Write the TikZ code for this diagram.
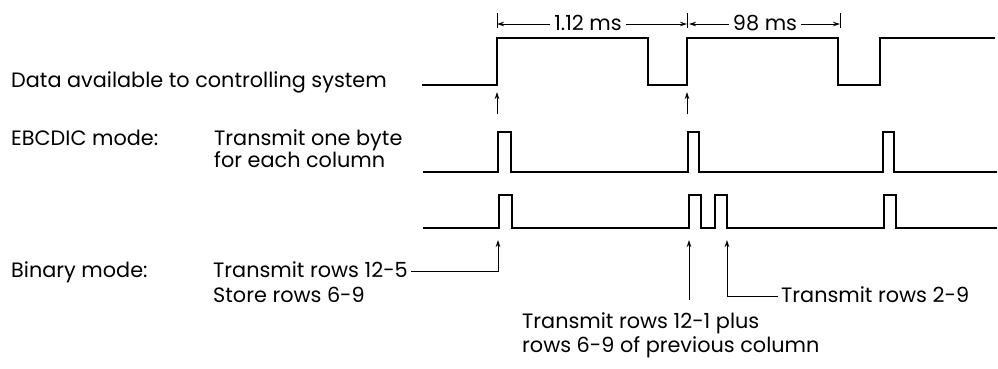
\documentclass[tikz,border=0pt]{standalone}
\usepackage{fontspec}
\setmainfont{Poppins}
\usetikzlibrary{arrows.meta}

\tikzset{
	wave/.style={line width=1.2pt, line join=miter},
	txt/.style={inner sep=0pt, anchor=base west, font=\fontsize{20.8}{24}\selectfont},
	dimtxt/.style={inner sep=0pt, anchor=base, font=\fontsize{20.8}{24}\selectfont},
	up/.style={-{Stealth[length=7pt,width=4.5pt]}, line width=0.9pt},
	dim/.style={-{Stealth[length=7pt,width=4.5pt]}, line width=0.9pt},
}

\begin{document}
\begin{tikzpicture}[x=1pt,y=-1pt]
	\useasboundingbox (0,0) rectangle (998,368);
	
	% labels on the left
	\node[txt] (data) at (11,87) {Data available to controlling system};
	\node[txt] (ebc) at (11,145) {EBCDIC mode:};
	\node[txt] (ebc1) at (214,145) {Transmit one byte};
	\node[txt] (ebc2) at (214,167) {for each column};
	\node[txt] (bin) at (11,277) {Binary mode:};
	\node[txt] (t125) at (213,277) {Transmit rows 12-5};
	\node[txt] (s69) at (213,302) {Store rows 6-9};
	\node[txt] (t29) at (781,302) {Transmit rows 2-9};
	\node[txt] (t121) at (522,328) {Transmit rows 12-1 plus};
	\node[txt] (prev) at (522,352) {rows 6-9 of previous column};
	
	% waveforms
	\draw[wave] (422,85) -- (497,85) -- (497,38) -- (648,38) -- (648,85) -- (687,85)
		-- (687,38) -- (838,38) -- (838,85) -- (880,85) -- (880,38) -- (995,38);
	\draw[wave] (423,172) -- (498,172) -- (498,132) -- (511,132) -- (511,172)
		-- (688,172) -- (688,132) -- (699,132) -- (699,172)
		-- (883,172) -- (883,132) -- (894,132) -- (894,172) -- (997,172);
	\draw[wave] (423,228) -- (499,228) -- (499,195) -- (512,195) -- (512,228)
		-- (689,228) -- (689,195) -- (701,195) -- (701,228)
		-- (715,228) -- (715,195) -- (727,195) -- (727,228)
		-- (884,228) -- (884,195) -- (896,195) -- (896,228) -- (997,228);
	
	% timing marks
	\coordinate (m1) at (497,24);
	\coordinate (m2) at (687,24);
	\coordinate (m3) at (840,24);
	\foreach \m in {m1,m2,m3}
		\draw[line width=0.9pt] ([yshift=11pt]\m) -- ([yshift=-4pt]\m);
	\node[dimtxt] (d1) at (588,30) {1.12 ms};
	\node[dimtxt] (d2) at (765,30) {98 ms};
	\draw[dim] ([xshift=-4pt]d1.west |- m1) -- (m1);
	\draw[dim] ([xshift=4pt]d1.east |- m1) -- (m2);
	\draw[dim] ([xshift=-4pt]d2.west |- m2) -- ([xshift=2pt]m2);
	\draw[dim] ([xshift=4pt]d2.east |- m2) -- (m3);
	
	% arrows under the data line
	\coordinate (a1) at (497,92);
	\coordinate (a2) at (687,92);
	\draw[up] (497,114) -- (a1);
	\draw[up] (687,114) -- (a2);
	
	% arrows under the binary line
	\coordinate (b1) at (498,240);
	\coordinate (b2) at (689,240);
	\coordinate (b3) at (727,240);
	\draw[up] ([xshift=3pt,yshift=6pt]t125.base east) -| (b1);
	\draw[up] (689,300) -- (b2);
	\draw[up] ([xshift=-3pt,yshift=6pt]t29.base west) -| (b3);
	
\end{tikzpicture}
\end{document}
